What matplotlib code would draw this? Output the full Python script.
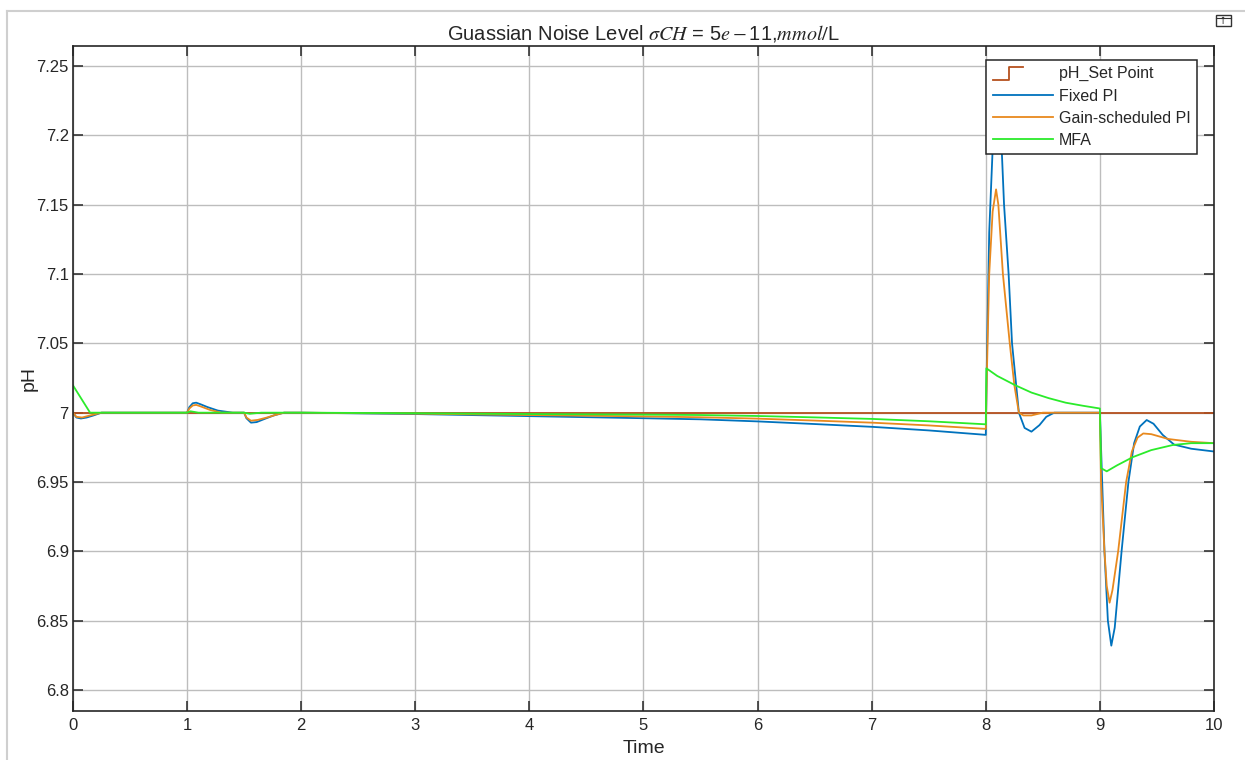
import numpy as np
import matplotlib
matplotlib.use("Agg")
import matplotlib.pyplot as plt
from matplotlib.lines import Line2D
from matplotlib.patches import Rectangle
from matplotlib.legend_handler import HandlerBase

plt.rcParams['font.family'] = ['Liberation Sans', 'DejaVu Sans']
plt.rcParams['mathtext.fontset'] = 'stix'

# set point (constant pH 7 over the whole run)
t_sp = [0, 10]
ph_sp = [7.0, 7.0]

# Fixed PI
t_fixed = [0, 0.03, 0.07, 0.12, 0.18, 0.25, 1.0, 1.02, 1.05, 1.08, 1.12, 1.18, 1.27, 1.4,
           1.5, 1.52, 1.56, 1.61, 1.68, 1.76, 1.85, 2.0, 3.0, 4.0, 5.0, 5.5, 6.0, 6.5,
           7.0, 7.5, 8.0, 8.01, 8.03, 8.06, 8.09, 8.12, 8.14, 8.16, 8.2, 8.23, 8.29,
           8.34, 8.4, 8.47, 8.53, 8.6, 9.0, 9.02, 9.04, 9.07, 9.1, 9.13, 9.19, 9.25,
           9.3, 9.35, 9.41, 9.47, 9.55, 9.65, 9.8, 10]
ph_fixed = [7.0, 6.9965, 6.9958, 6.9965, 6.998, 7.0, 7.0, 7.004, 7.0068, 7.0072, 7.006,
            7.004, 7.0015, 7.0, 7.0, 6.996, 6.9928, 6.9932, 6.9955, 6.998, 7.0, 7.0,
            6.999, 6.9975, 6.996, 6.9952, 6.9937, 6.9918, 6.9898, 6.9872, 6.984,
            7.04, 7.13, 7.19, 7.22, 7.21, 7.189, 7.15, 7.10, 7.05, 7.0, 6.989,
            6.9863, 6.991, 6.997, 7.0, 7.0, 6.95, 6.90, 6.85, 6.832, 6.845, 6.90,
            6.95, 6.978, 6.990, 6.9947, 6.992, 6.984, 6.977, 6.974, 6.972]

# Gain-scheduled PI
t_gain = [0, 0.03, 0.08, 0.15, 0.25, 1.0, 1.02, 1.05, 1.08, 1.12, 1.2, 1.3,
          1.5, 1.52, 1.56, 1.62, 1.7, 1.78, 1.85, 2.0, 3.0, 4.0, 5.0, 5.5, 6.0,
          6.5, 7.0, 7.5, 8.0, 8.01, 8.03, 8.06, 8.09, 8.11, 8.13, 8.15, 8.18,
          8.21, 8.25, 8.29, 8.33, 8.4, 8.5, 9.0, 9.01, 9.04, 9.06, 9.085, 9.11,
          9.16, 9.23, 9.28, 9.33, 9.38, 9.45, 9.6, 9.8, 10]
ph_gain = [7.0, 6.997, 6.9965, 6.998, 7.0, 7.0, 7.003, 7.0052, 7.0056, 7.0045, 7.002,
           7.0, 7.0, 6.9965, 6.9942, 6.9948, 6.9965, 6.9985, 7.0, 7.0, 6.9993,
           6.9983, 6.9973, 6.9967, 6.9957, 6.9943, 6.9928, 6.9908, 6.9883,
           7.03, 7.10, 7.145, 7.161, 7.15, 7.125, 7.10, 7.075, 7.05, 7.02, 7.0,
           6.998, 6.998, 7.0, 7.0, 6.95, 6.90, 6.875, 6.863, 6.872, 6.90, 6.95,
           6.972, 6.982, 6.985, 6.9845, 6.981, 6.979, 6.978]

# MFA
t_mfa = [0, 0.15, 1.0, 1.03, 1.1, 1.5, 1.55, 1.65, 2.0, 3.0, 4.0, 5.0, 5.5, 6.0, 6.5,
         7.0, 7.5, 8.0, 8.005, 8.1, 8.26, 8.4, 8.55, 8.7, 8.85, 9.0, 9.01, 9.06,
         9.15, 9.29, 9.45, 9.64, 9.8, 10]
ph_mfa = [7.0197, 7.0, 7.0, 7.001, 7.0, 7.0, 6.9992, 7.0, 7.0, 6.9996, 6.999, 6.9986,
          6.9983, 6.9976, 6.9966, 6.9955, 6.9938, 6.9916, 7.032, 7.0265, 7.0197,
          7.0145, 7.0105, 7.0072, 7.005, 7.003, 6.96, 6.9577, 6.962, 6.968, 6.973,
          6.9767, 6.978, 6.978]

x_ticks = list(range(0, 11))
y_ticks = [6.8, 6.85, 6.9, 6.95, 7.0, 7.05, 7.1, 7.15, 7.2, 7.25]
y_labels = ['6.8', '6.85', '6.9', '6.95', '7', '7.05', '7.1', '7.15', '7.2', '7.25']

c_sp = '#B5501E'
c_fixed = '#0072BD'
c_gain = '#E8891E'
c_mfa = '#2BEB2B'
txt = '#262626'


class StepHandler(HandlerBase):
    # step-shaped legend icon like the Simulink scope
    def create_artists(self, legend, orig_handle, xdescent, ydescent,
                       width, height, fontsize, trans):
        xs = np.array([0, 0.27, 0.27, 0.5]) * width - xdescent
        ys = np.array([-0.15, -0.15, 1.0, 1.0]) * height - ydescent
        ln = Line2D(xs, ys, color=orig_handle.get_color(), lw=orig_handle.get_linewidth())
        ln.set_transform(trans)
        return [ln]


fig = plt.figure(figsize=(12.45, 7.6), dpi=100)
fig.subplots_adjust(left=0.0586, right=0.9751, top=0.9395, bottom=0.0645)
ax = fig.add_subplot(111)

sp_line, = ax.plot(t_sp, ph_sp, color=c_sp, lw=1.3, label='pH_Set Point')
ax.plot(t_fixed, ph_fixed, color=c_fixed, lw=1.3, label='Fixed PI')
ax.plot(t_gain, ph_gain, color=c_gain, lw=1.3, label='Gain-scheduled PI')
ax.plot(t_mfa, ph_mfa, color=c_mfa, lw=1.3, label='MFA')

ax.set_xlim(0, 10)
ax.set_ylim(6.7849, 7.2644)
ax.set_xticks(x_ticks)
ax.set_yticks(y_ticks)
ax.set_yticklabels(y_labels)
ax.grid(True, color='#bdbdbd', lw=1)
ax.set_axisbelow(True)
ax.tick_params(direction='in', length=7, width=1.1, colors=txt, labelsize=12,
               top=True, right=True)
ax.tick_params(axis='x', pad=5)
ax.tick_params(axis='y', pad=3)
for s in ax.spines.values():
    s.set_color(txt)
    s.set_linewidth(1.2)

ax.set_title(r"Guassian Noise Level $\sigma CH$ = 5$e-$11,$mmol/$L", fontsize=14.5, color=txt, pad=5)
ax.set_xlabel('Time', fontsize=14, color=txt, labelpad=5)
ax.set_ylabel('pH', fontsize=14, color=txt, labelpad=-1)

leg = ax.legend(loc='upper right', bbox_to_anchor=(0.985, 0.979), borderaxespad=0,
                fontsize=11.5, handlelength=3.75, handletextpad=0.375, borderpad=0.4,
                labelspacing=0.45, fancybox=False, framealpha=1,
                handler_map={sp_line: StepHandler()})
leg.get_frame().set_edgecolor('#262626')
leg.get_frame().set_linewidth(1.1)
for t in leg.get_texts():
    t.set_color(txt)

# window border and restore icon of the figure window
fig.add_artist(Line2D([7 / 1245, 7 / 1245], [0, 1 - 11 / 760], color='#cfcfcf', lw=1.5))
fig.add_artist(Line2D([7 / 1245, 1], [1 - 11 / 760, 1 - 11 / 760], color='#cfcfcf', lw=1.5))
fig.add_artist(Rectangle((1216 / 1245, 1 - 26 / 760), 15 / 1245, 11 / 760,
                         fill=False, ec='#333333', lw=1))
fig.add_artist(Line2D([1216 / 1245, 1231 / 1245], [1 - 18 / 760, 1 - 18 / 760], color='#333333', lw=0.8))
fig.text(1223.5 / 1245, 1 - 21 / 760, '↑', fontsize=7, ha='center', va='center',
         color='#333333', family='DejaVu Sans')

fig.savefig('out.png', dpi=100)
